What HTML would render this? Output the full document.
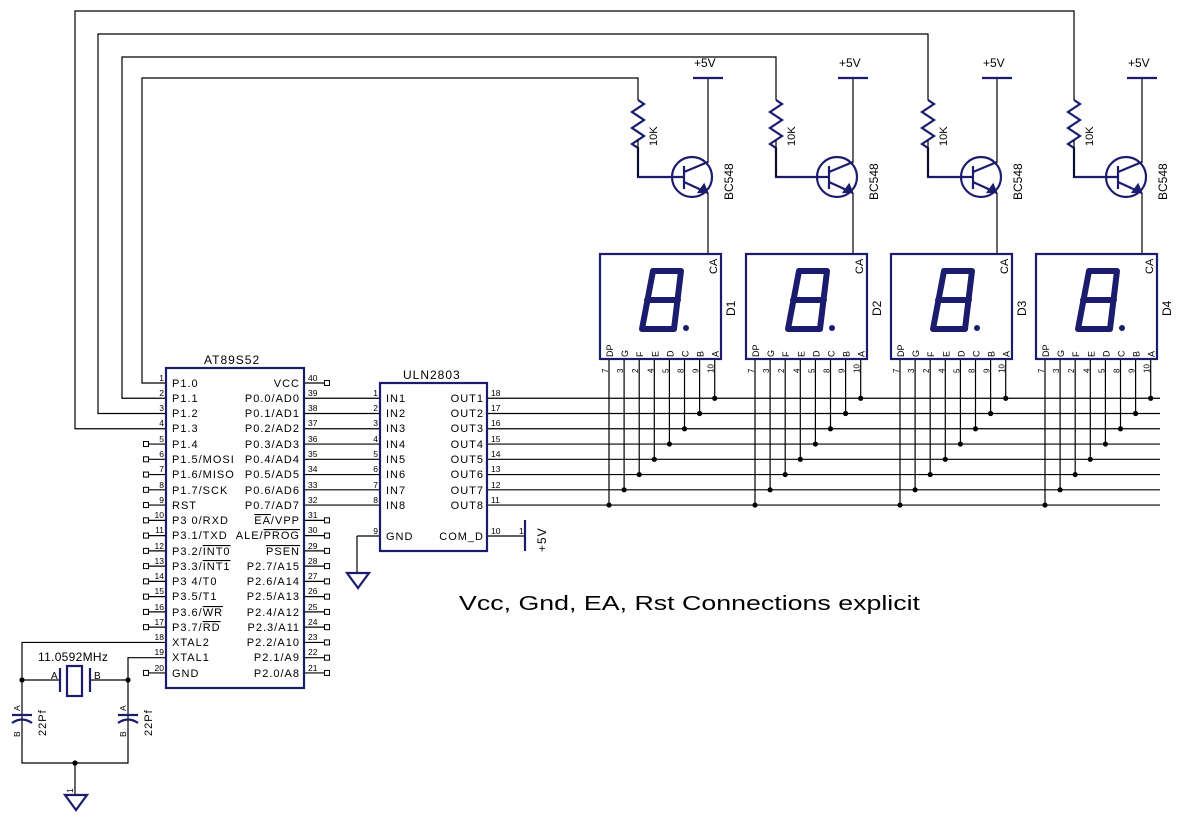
<!DOCTYPE html>
<html><head><meta charset="utf-8"><style>
html,body{margin:0;padding:0;background:#fff;width:1182px;height:821px;overflow:hidden}
svg{display:block}
text{font-family:"Liberation Sans",sans-serif;fill:#000}
.pl{font-size:11px;letter-spacing:1px}
.pn{font-size:8.5px}
.nv{stroke:#1c1c6e;fill:none;stroke-width:2.2}
.dig{stroke:#1c1c6e;fill:none;stroke-width:6;stroke-linejoin:round;stroke-linecap:round}
</style></head><body>
<svg id="s" width="1182" height="821" viewBox="0 0 1182 821" xmlns="http://www.w3.org/2000/svg">
<g id="w" stroke="#000" stroke-width="1.2" fill="none"></g>
<g id="n"></g>
<!-- MCU -->
<rect x="166" y="368" width="138" height="320" class="nv"/>
<text x="204" y="364" class="pl" style="font-size:12px">AT89S52</text>
<g class="pl">
<text x="172" y="387">P1.0</text><text x="172" y="402">P1.1</text><text x="172" y="417">P1.2</text><text x="172" y="432">P1.3</text>
<text x="172" y="448">P1.4</text><text x="172" y="463">P1.5/MOSI</text><text x="172" y="478">P1.6/MISO</text><text x="172" y="494">P1.7/SCK</text>
<text x="172" y="509">RST</text><text x="172" y="524">P3 0/RXD</text><text x="172" y="539">P3.1/TXD</text><text x="172" y="555">P3.2/<tspan text-decoration="overline">INT0</tspan></text>
<text x="172" y="570">P3.3/<tspan text-decoration="overline">INT1</tspan></text><text x="172" y="585">P3 4/T0</text><text x="172" y="600">P3.5/T1</text><text x="172" y="616">P3.6/<tspan text-decoration="overline">WR</tspan></text>
<text x="172" y="631">P3.7/<tspan text-decoration="overline">RD</tspan></text><text x="172" y="646">XTAL2</text><text x="172" y="661">XTAL1</text><text x="172" y="677">GND</text>
</g>
<g class="pl" text-anchor="end">
<text x="300" y="387">VCC</text><text x="300" y="402">P0.0/AD0</text><text x="300" y="417">P0.1/AD1</text><text x="300" y="432">P0.2/AD2</text>
<text x="300" y="448">P0.3/AD3</text><text x="300" y="463">P0.4/AD4</text><text x="300" y="478">P0.5/AD5</text><text x="300" y="494">P0.6/AD6</text>
<text x="300" y="509">P0.7/AD7</text><text x="300" y="524"><tspan text-decoration="overline">EA</tspan>/VPP</text><text x="300" y="539">ALE/<tspan text-decoration="overline">PROG</tspan></text><text x="300" y="555"><tspan text-decoration="overline">PSEN</tspan></text>
<text x="300" y="570">P2.7/A15</text><text x="300" y="585">P2.6/A14</text><text x="300" y="600">P2.5/A13</text><text x="300" y="616">P2.4/A12</text>
<text x="300" y="631">P2.3/A11</text><text x="300" y="646">P2.2/A10</text><text x="300" y="661">P2.1/A9</text><text x="300" y="677">P2.0/A8</text>
</g>
<g class="pn" text-anchor="end">
<text x="164" y="381">1</text><text x="164" y="396">2</text><text x="164" y="411">3</text><text x="164" y="426">4</text><text x="164" y="442">5</text><text x="164" y="457">6</text><text x="164" y="472">7</text><text x="164" y="488">8</text><text x="164" y="503">9</text><text x="164" y="518">10</text><text x="164" y="533">11</text><text x="164" y="549">12</text><text x="164" y="564">13</text><text x="164" y="579">14</text><text x="164" y="594">15</text><text x="164" y="610">16</text><text x="164" y="625">17</text><text x="164" y="640">18</text><text x="164" y="655">19</text><text x="164" y="671">20</text>
</g>
<g class="pn">
<text x="308" y="381">40</text><text x="308" y="396">39</text><text x="308" y="411">38</text><text x="308" y="426">37</text><text x="308" y="442">36</text><text x="308" y="457">35</text><text x="308" y="472">34</text><text x="308" y="488">33</text><text x="308" y="503">32</text><text x="308" y="518">31</text><text x="308" y="533">30</text><text x="308" y="549">29</text><text x="308" y="564">28</text><text x="308" y="579">27</text><text x="308" y="594">26</text><text x="308" y="610">25</text><text x="308" y="625">24</text><text x="308" y="640">23</text><text x="308" y="655">22</text><text x="308" y="671">21</text>
</g>
<!-- ULN -->
<rect x="380" y="383" width="107" height="168" class="nv"/>
<text x="403" y="379" class="pl" style="font-size:12px">ULN2803</text>
<g class="pl">
<text x="386" y="402">IN1</text><text x="386" y="417">IN2</text><text x="386" y="432">IN3</text><text x="386" y="448">IN4</text><text x="386" y="463">IN5</text><text x="386" y="478">IN6</text><text x="386" y="494">IN7</text><text x="386" y="509">IN8</text><text x="386" y="540">GND</text>
</g>
<g class="pl" text-anchor="end">
<text x="484" y="402">OUT1</text><text x="484" y="417">OUT2</text><text x="484" y="432">OUT3</text><text x="484" y="448">OUT4</text><text x="484" y="463">OUT5</text><text x="484" y="478">OUT6</text><text x="484" y="494">OUT7</text><text x="484" y="509">OUT8</text><text x="484" y="540">COM_D</text>
</g>
<g class="pn" text-anchor="end">
<text x="378" y="396">1</text><text x="378" y="411">2</text><text x="378" y="426">3</text><text x="378" y="442">4</text><text x="378" y="457">5</text><text x="378" y="472">6</text><text x="378" y="488">7</text><text x="378" y="503">8</text><text x="378" y="534">9</text>
</g>
<g class="pn">
<text x="491" y="396">18</text><text x="491" y="411">17</text><text x="491" y="426">16</text><text x="491" y="442">15</text><text x="491" y="457">14</text><text x="491" y="472">13</text><text x="491" y="488">12</text><text x="491" y="503">11</text><text x="491" y="534">10</text><text x="519" y="534">1</text>
</g>
<line x1="525" y1="520" x2="525" y2="551" class="nv"/>
<text transform="translate(546,552) rotate(-90)" class="pl" style="font-size:12px">+5V</text>
<polygon points="347,573 369,573 358,588" class="nv"/>
<text x="459" y="610" style="font-size:20px" textLength="461" lengthAdjust="spacingAndGlyphs">Vcc, Gnd, EA, Rst Connections explicit</text>
<!-- crystal section -->
<text x="38" y="661" class="pl" style="font-size:12px;letter-spacing:0.3px">11.0592MHz</text>
<rect x="67" y="666" width="15" height="30" class="nv"/>
<line x1="60" y1="668" x2="60" y2="692" class="nv"/><line x1="90" y1="668" x2="90" y2="692" class="nv"/>
<text x="51" y="679" class="pn" style="font-size:10px">A</text><text x="94" y="679" class="pn" style="font-size:10px">B</text>
<line x1="12" y1="715" x2="32" y2="715" class="nv"/><path d="M12 723 Q22 716 32 723" class="nv"/>
<line x1="118" y1="715" x2="138" y2="715" class="nv"/><path d="M118 723 Q128 716 138 723" class="nv"/>
<text transform="translate(46,736) rotate(-90)" class="pl">22Pf</text>
<text transform="translate(152,736) rotate(-90)" class="pl">22Pf</text>
<text transform="translate(20,711) rotate(-90)" class="pn">A</text><text transform="translate(20,737) rotate(-90)" class="pn">B</text>
<text transform="translate(126,711) rotate(-90)" class="pn">A</text><text transform="translate(126,737) rotate(-90)" class="pn">B</text>
<text transform="translate(73,793) rotate(-90)" class="pn">1</text>
<polygon points="65,795 87,795 76,810" class="nv"/>
<g id="units"></g>
</svg>
<script>
(function(){
var NS="http://www.w3.org/2000/svg",w=document.getElementById('w'),nd=document.getElementById('n'),u=document.getElementById('units');
function L(x1,y1,x2,y2,p,st){var e=document.createElementNS(NS,'line');e.setAttribute('x1',x1);e.setAttribute('y1',y1);e.setAttribute('x2',x2);e.setAttribute('y2',y2);if(st)e.setAttribute('class',st);(p||w).appendChild(e);}
function P(d,st,p){var e=document.createElementNS(NS,'path');e.setAttribute('d',d);if(st)e.setAttribute('class',st);else{e.setAttribute('stroke','#000');e.setAttribute('fill','none');e.setAttribute('stroke-width','1.2');}(p||w).appendChild(e);return e;}
function D(x,y){var e=document.createElementNS(NS,'circle');e.setAttribute('cx',x);e.setAttribute('cy',y);e.setAttribute('r',2.6);nd.appendChild(e);}
function S(x,y){var e=document.createElementNS(NS,'rect');e.setAttribute('x',x-2.5);e.setAttribute('y',y-2.5);e.setAttribute('width',5);e.setAttribute('height',5);e.setAttribute('fill','#fff');e.setAttribute('stroke','#000');e.setAttribute('stroke-width','1');nd.appendChild(e);}
function row(i){return 383+i*15.26;}
for(var i=0;i<20;i++){var y=row(i);if(i>=4&&i<=16||i==19){L(148,y,166,y);S(146,y);}}
L(304,row(0),325,row(0));S(327,row(0));
for(i=1;i<=8;i++)L(304,row(i),380,row(i));
for(i=9;i<20;i++){L(304,row(i),325,row(i));S(327,row(i));}
for(i=0;i<8;i++)L(487,row(i+1),1160,row(i+1));
L(380,536,357,536);L(357,536,357,573);L(487,536,525,536);
var y17=row(17),y18=row(18);
P('M166 '+y17+' H22 V763 H128 V'+y18+' H166');
L(22,680,60,680);L(90,680,128,680);L(75,763,75,795);
D(22,680);D(128,680);D(75,763);
var lefts=[600,746,891,1036],rx=[638,776,928,1074],cx=[708,853,997,1142],ty=[78,57,34,11],lx=[142,122,98,75];
for(var k=0;k<4;k++){
 var Lf=lefts[k];
 P('M'+rx[k]+' 100 V'+ty[k]+' H'+lx[k]+' V'+row(k)+' H166');
 P('M'+rx[k]+' 100 l6 4 l-12 8 l12 8 l-12 8 l12 8 l-12 8 l6 4 V177 H'+(cx[k]-24),'nv');
 P('M'+rx[k]+' 140 V177','');
 L(cx[k]-15,78,cx[k]+15,78,u,'nv');
 L(cx[k],78,cx[k],163);
 var c=document.createElementNS(NS,'circle');c.setAttribute('cx',cx[k]-16);c.setAttribute('cy',177);c.setAttribute('r',20);c.setAttribute('class','nv');u.appendChild(c);
 L(cx[k]-24,166,cx[k]-24,189,u,'nv');
 P('M'+(cx[k]-24)+' 172 L'+cx[k]+' 162','nv',u);
 P('M'+(cx[k]-24)+' 182 L'+cx[k]+' 193','nv',u);
 P('M'+(cx[k]-4)+' 185 L'+(cx[k]-1)+' 192 L'+(cx[k]-9)+' 192 Z','nv',u).style.fill='#1c1c6e';
 L(cx[k],193,cx[k],254);
 var r=document.createElementNS(NS,'rect');r.setAttribute('x',Lf);r.setAttribute('y',254);r.setAttribute('width',121);r.setAttribute('height',105);r.setAttribute('class','nv');u.appendChild(r);
 var o=Lf-600;
 P('M'+(653+o)+' 271 H'+(681+o)+' L'+(674+o)+' 329 H'+(642+o)+' Z M'+(647+o)+' 300 H'+(678+o),'dig',u);
 var dt=document.createElementNS(NS,'circle');dt.setAttribute('cx',686+o);dt.setAttribute('cy',328);dt.setAttribute('r',3);dt.setAttribute('fill','#1c1c6e');u.appendChild(dt);
 for(var p=0;p<8;p++){var px=Lf+9+p*15.1,py=row(8-p);L(px,359,px,py);D(px,py);}
}
})();
</script>
<div style="position:absolute;left:0;top:0;width:1182px;height:821px;pointer-events:none">
<svg width="1182" height="821" style="position:absolute;left:0;top:0">
<g style="font-family:'Liberation Sans',sans-serif">
<g font-size="12">
<text x="694" y="67">+5V</text><text x="839" y="67">+5V</text><text x="983" y="67">+5V</text><text x="1128" y="67">+5V</text>
<text transform="translate(733,200) rotate(-90)">BC548</text><text transform="translate(878,200) rotate(-90)">BC548</text><text transform="translate(1022,200) rotate(-90)">BC548</text><text transform="translate(1167,200) rotate(-90)">BC548</text>
<text transform="translate(657,146) rotate(-90)" font-size="11">10K</text><text transform="translate(795,146) rotate(-90)" font-size="11">10K</text><text transform="translate(947,146) rotate(-90)" font-size="11">10K</text><text transform="translate(1093,146) rotate(-90)" font-size="11">10K</text>
<text transform="translate(717,274) rotate(-90)" font-size="11">CA</text><text transform="translate(863,274) rotate(-90)" font-size="11">CA</text><text transform="translate(1008,274) rotate(-90)" font-size="11">CA</text><text transform="translate(1153,274) rotate(-90)" font-size="11">CA</text>
<text transform="translate(735,316) rotate(-90)">D1</text><text transform="translate(881,316) rotate(-90)">D2</text><text transform="translate(1026,316) rotate(-90)">D3</text><text transform="translate(1171,316) rotate(-90)">D4</text>
</g>
<g font-size="9" id="pinlbl"></g>
</g></svg></div>
<script>
(function(){
var NS="http://www.w3.org/2000/svg",g=document.getElementById('pinlbl');
var lefts=[600,746,891,1036],let=['DP','G','F','E','D','C','B','A'],num=['7','3','2','4','5','8','9','10'];
for(var k=0;k<4;k++)for(var p=0;p<8;p++){
 var px=lefts[k]+9+p*15.1;
 var t=document.createElementNS(NS,'text');t.setAttribute('transform','translate('+(px+4)+',357) rotate(-90)');t.textContent=let[p];g.appendChild(t);
 var t2=document.createElementNS(NS,'text');t2.setAttribute('transform','translate('+(px-1)+',373) rotate(-90)');t2.setAttribute('font-size','8');t2.textContent=num[p];g.appendChild(t2);
}
})();
</script>
</body></html>
